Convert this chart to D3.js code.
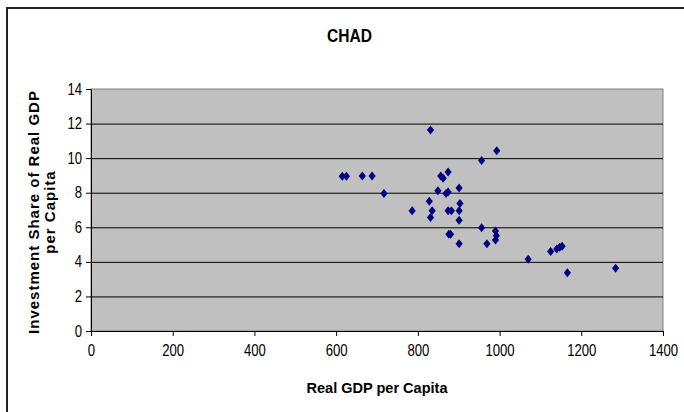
<!DOCTYPE html>
<html>
<head>
<meta charset="utf-8">
<script src="https://cdn.jsdelivr.net/npm/d3@7"></script>
<style>
  body { margin: 0; background: #fff; }
  svg { display: block; font-family: "Liberation Sans", Arial, sans-serif; }
</style>
</head>
<body>
<svg id="chart" width="684" height="412"></svg>
<script>
// Chad: real GDP per capita vs investment share
const gdp = [615, 625, 664, 688, 717, 786, 828, 831, 831, 835, 849, 856, 862, 869, 874, 874, 874, 882,
  876, 880, 901, 903, 901, 901, 901, 956, 956, 969, 990, 992, 990, 993, 1070, 1125, 1140, 1147, 1153, 1166, 1284];
const investment = [8.95, 8.95, 8.97, 8.97, 7.95, 6.96, 7.5, 11.63, 6.56, 6.96, 8.12, 8.97, 8.83, 7.95, 8.04, 9.2, 6.96, 6.96,
  5.6, 5.6, 8.27, 7.37, 6.96, 6.4, 5.05, 9.87, 5.98, 5.05, 5.78, 5.51, 5.26, 10.43, 4.15, 4.6, 4.75, 4.85, 4.9, 3.37, 3.63];
const xTicks = [0, 200, 400, 600, 800, 1000, 1200, 1400];
const yTicks = [0, 2, 4, 6, 8, 10, 12, 14];

const svg = d3.select('#chart');
const plotLeft = 91, plotRight = 663, plotTop = 89, plotBottom = 331;

// outer chart frame
svg.append('rect')
  .attr('x', 7).attr('y', 8).attr('width', 720).attr('height', 430)
  .attr('fill', 'none').attr('stroke', '#222').attr('stroke-width', 2);

const x = d3.scaleLinear().domain([0, 1400]).range([plotLeft, plotRight]);
const y = d3.scaleLinear().domain([0, 14]).range([plotBottom, plotTop]);

svg.append('rect')
  .attr('x', plotLeft).attr('y', plotTop)
  .attr('width', plotRight - plotLeft).attr('height', plotBottom - plotTop)
  .attr('fill', '#c0c0c0').attr('stroke', '#808080');

// gridlines
svg.append('g')
  .attr('transform', `translate(${plotLeft},0)`)
  .call(d3.axisLeft(y).tickValues(yTicks.slice(1, -1)).tickSize(-(plotRight - plotLeft)).tickFormat(''))
  .call(g => g.select('.domain').remove())
  .selectAll('line').attr('stroke', '#000');

const yAxis = svg.append('g')
  .attr('transform', `translate(${plotLeft},0)`)
  .call(d3.axisLeft(y).tickValues(yTicks).tickSize(5).tickPadding(6).tickFormat(d3.format('d')));
const xAxis = svg.append('g')
  .attr('transform', `translate(0,${plotBottom})`)
  .call(d3.axisBottom(x).tickValues(xTicks).tickSize(5).tickPadding(9).tickFormat(d3.format('d')));

// narrow, tall tick labels like the original
[yAxis, xAxis].forEach(g => {
  g.select('.domain').attr('stroke', '#000');
  g.selectAll('line').attr('stroke', '#000');
  g.selectAll('text').attr('font-size', 16).attr('fill', '#000')
    .attr('font-family', '"Liberation Sans", Arial, sans-serif')
    .attr('transform', 'scale(0.82,1)');
});

// points
const diamond = 'M0,-4.5L3.6,0L0,4.5L-3.6,0Z';
svg.append('g')
  .selectAll('path')
  .data(gdp)
  .enter()
  .append('path')
  .attr('d', diamond)
  .attr('transform', (d, i) => `translate(${x(d)},${y(investment[i])})`)
  .attr('fill', '#000080');

// titles
svg.append('text')
  .attr('x', 349.5).attr('y', 42)
  .attr('text-anchor', 'middle')
  .attr('font-size', 19).attr('font-weight', 'bold')
  .attr('textLength', 45).attr('lengthAdjust', 'spacingAndGlyphs')
  .text('CHAD');

svg.append('text')
  .attr('x', 377).attr('y', 393)
  .attr('text-anchor', 'middle')
  .attr('font-size', 15).attr('font-weight', 'bold')
  .attr('textLength', 141).attr('lengthAdjust', 'spacingAndGlyphs')
  .text('Real GDP per Capita');

const yTitle = svg.append('g')
  .attr('transform', 'translate(0,212) rotate(-90)');
yTitle.append('text')
  .attr('x', 0).attr('y', 39)
  .attr('text-anchor', 'middle')
  .attr('font-size', 15).attr('font-weight', 'bold')
  .attr('letter-spacing', 1)
  .text('Investment Share of Real GDP');
yTitle.append('text')
  .attr('x', 0).attr('y', 55)
  .attr('text-anchor', 'middle')
  .attr('font-size', 15).attr('font-weight', 'bold')
  .attr('letter-spacing', 1)
  .text('per Capita');
</script>
</body>
</html>
